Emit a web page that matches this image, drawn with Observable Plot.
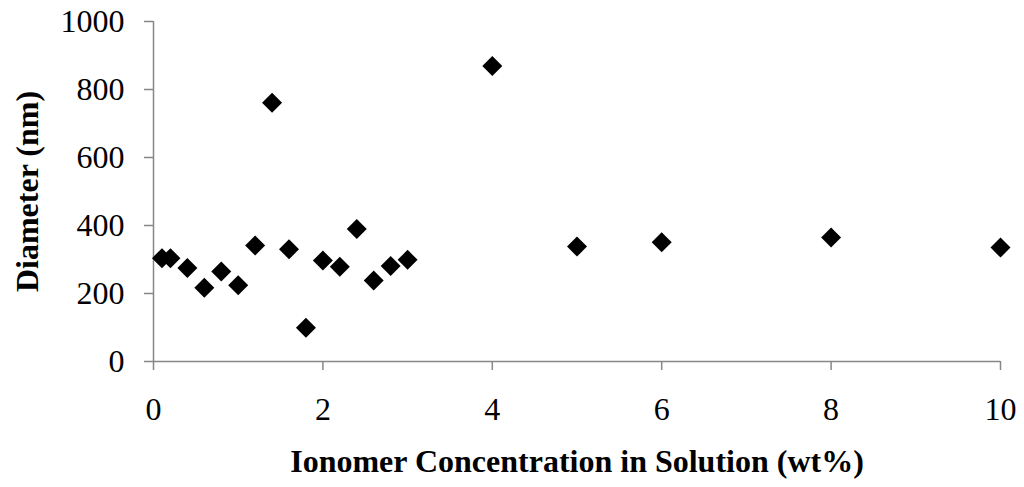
<!DOCTYPE html>
<html>
<head>
<meta charset="utf-8">
<script src="https://cdn.jsdelivr.net/npm/d3@7"></script>
<script src="https://cdn.jsdelivr.net/npm/@observablehq/plot@0.6"></script>
<style>
  html, body { margin: 0; padding: 0; background: #fff; }
  #chart svg { display: block; }
  g[aria-label*="axis"] line,
  g[aria-label="x-axis tick"], g[aria-label="y-axis tick"],
  g[aria-label="x-axis tick"] path, g[aria-label="y-axis tick"] path { stroke: #878787; stroke-width: 1.5px; }
</style>
</head>
<body>
<div id="chart"></div>
<script>
const concentration = [0.1, 0.2, 0.4, 0.6, 0.8, 1.0, 1.2, 1.4, 1.6, 1.8, 2.0, 2.2, 2.4, 2.6, 2.8, 3.0, 4, 5, 6, 8, 10];
const diameter     = [304, 304, 275, 217, 265, 224, 341, 761, 330, 99, 297, 279, 390, 238, 281, 299, 869, 338, 351, 365, 335];
const xTicks = [0, 2, 4, 6, 8, 10];
const yTicks = [0, 200, 400, 600, 800, 1000];
const xTitle = ["Ionomer Concentration in Solution (wt%)"];
const yTitle = ["Diameter (nm)"];

const data = concentration.map((c, i) => ({c, d: diameter[i]}));

const chart = Plot.plot({
  width: 1024,
  height: 487,
  marginLeft: 153,
  marginRight: 24,
  marginTop: 21,
  marginBottom: 126,
  style: {fontFamily: "'Liberation Serif', 'Times New Roman', serif", fontSize: "32px", color: "#000", background: "#fff", overflow: "visible"},
  x: {domain: [0, 10], ticks: xTicks, tickSize: 9, tickPadding: 27, tickFormat: d => String(d), label: null},
  y: {domain: [0, 1000], ticks: yTicks, tickSize: 9, tickPadding: 20, tickFormat: d => String(d), label: null},
  marks: [
    Plot.ruleY([0], {stroke: "#878787", strokeWidth: 1.5}),
    Plot.ruleX([0], {stroke: "#878787", strokeWidth: 1.5}),
    Plot.dot(data, {x: "c", y: "d", symbol: "diamond2", r: 9, fill: "#000", stroke: "none"}),
    Plot.text(xTitle, {frameAnchor: "bottom", textAnchor: "middle", dy: 110, fontWeight: "bold", fontSize: 32, fill: "#000"}),
    Plot.text(yTitle, {frameAnchor: "left", textAnchor: "middle", dx: -126, rotate: -90, fontWeight: "bold", fontSize: 32, fill: "#000"})
  ]
});
document.getElementById("chart").appendChild(chart);
</script>
</body>
</html>
